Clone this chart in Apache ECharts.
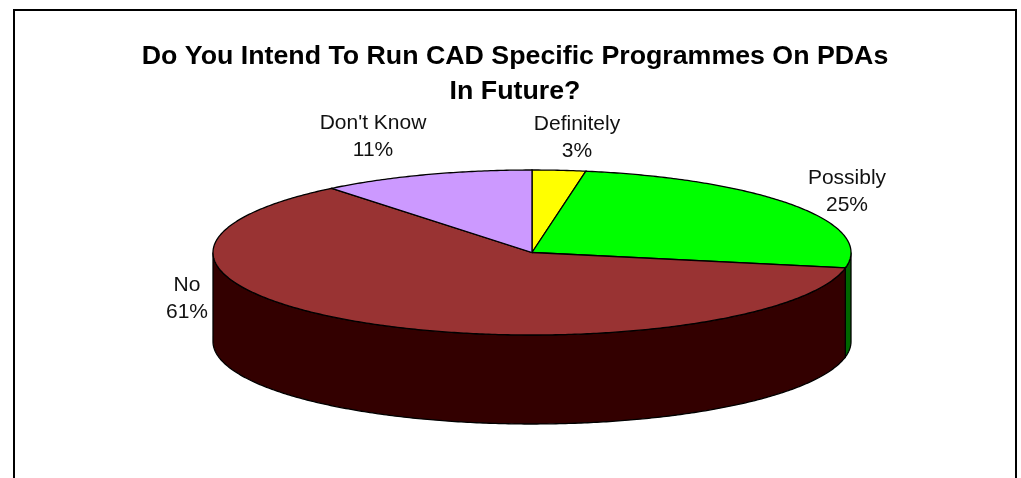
<!DOCTYPE html>
<html><head><meta charset="utf-8">
<style>html,body{margin:0;padding:0;background:#fff}#c{width:1021px;height:478px}</style>
<script src="https://cdn.jsdelivr.net/npm/echarts@6/dist/echarts.min.js"></script>
</head><body><div id="c"></div>
<script>
const categories = ["Definitely", "Possibly", "No", "Don't Know"];
const values = [2.7, 25.3, 61.2, 10.8];
const percentLabels = ["3%", "25%", "61%", "11%"];
const topColors = ["#FFFF00", "#00FF00", "#993333", "#CC99FF"];
const sideColors = ["#666600", "#006600", "#330000", "#663399"];
const titleLines = ["Do You Intend To Run CAD Specific Programmes On PDAs", "In Future?"];

// layout
const C = {cx: 532, cy: 252.5, rx: 319, ry: 82.5, depth: 89};
const labelCenters = [[577, 138], [847, 192], [187, 299], [373, 137]];

const total = values.reduce((a, b) => a + b, 0);
function rim(t, dy) {
  return [C.cx + C.rx * Math.sin(t), C.cy - C.ry * Math.cos(t) + (dy || 0)];
}
function arc(a, b, dy) {
  const n = Math.max(2, Math.ceil(Math.abs(b - a) / 0.01)), pts = [];
  for (let i = 0; i <= n; i++) pts.push(rim(a + (b - a) * i / n, dy));
  return pts;
}
let acc = 0;
const slices = values.map((v, i) => {
  const s = acc / total * 2 * Math.PI; acc += v;
  return {s, e: acc / total * 2 * Math.PI, i};
});
function renderItem(params, api) {
  const i = api.value(0), sl = slices[i], children = [];
  const line = {stroke: '#000', lineWidth: 1.3};
  const a = Math.max(sl.s, Math.PI / 2), b = Math.min(sl.e, 3 * Math.PI / 2);
  if (a < b) {
    const pts = arc(a, b, 0).concat(arc(b, a, C.depth));
    children.push({type: 'polygon', shape: {points: pts},
      style: Object.assign({fill: sideColors[i]}, line)});
  }
  children.push({type: 'polygon', shape: {points: [[C.cx, C.cy]].concat(arc(sl.s, sl.e, 0))},
    style: Object.assign({fill: topColors[i]}, line)});
  children.push({type: 'text', x: labelCenters[i][0], y: labelCenters[i][1],
    style: {text: categories[i] + "\n" + percentLabels[i], fill: '#111', align: 'center', verticalAlign: 'middle',
      font: '21px "Liberation Sans"', lineHeight: 27}});
  return {type: 'group', children};
}
const chart = echarts.init(document.getElementById('c'), null, {renderer: 'canvas'});
chart.setOption({
  animation: false,
  backgroundColor: '#fff',
  graphic: [
    {type: 'rect', z: -1, shape: {x: 14, y: 10, width: 1002, height: 500},
     style: {fill: '#fff', stroke: '#000', lineWidth: 2}},
    {type: 'text', x: 515, y: 75, scaleX: 1.07, z: 5,
     style: {text: titleLines.join("\n"), font: 'bold 25px "Liberation Sans"', lineHeight: 35,
       fill: '#000', align: 'center', verticalAlign: 'middle'}}
  ],
  series: [{type: 'custom', coordinateSystem: 'none', renderItem,
    data: values.map((v, i) => [i, v])}]
});
</script></body></html>
